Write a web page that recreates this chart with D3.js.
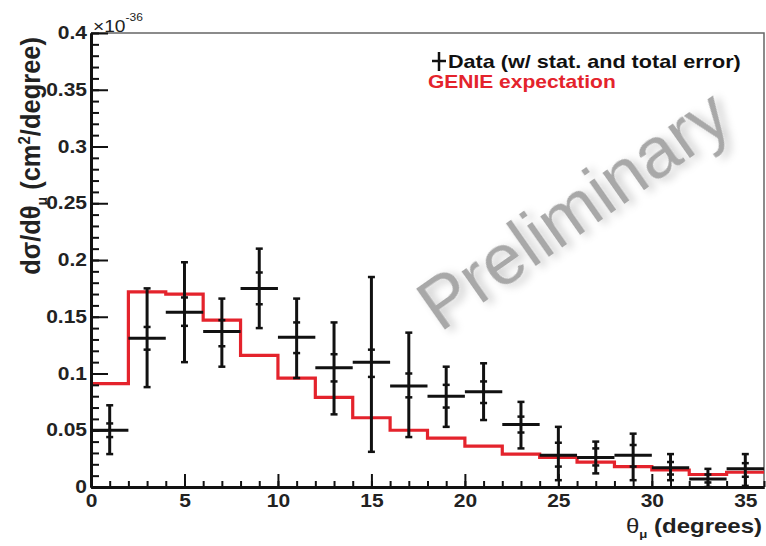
<!DOCTYPE html>
<html>
<head>
<meta charset="utf-8">
<script src="https://cdn.jsdelivr.net/npm/d3@7"></script>
<style>
  body { margin: 0; background: #fff; }
  svg { display: block; font-family: "Liberation Sans", Arial, Helvetica, sans-serif; }
</style>
</head>
<body>
<div id="chart"></div>
<script>
// bins in theta_mu (degrees)
var binEdges = [0, 2, 4, 6, 8, 10, 12, 14, 16, 18, 20, 22, 24, 26, 28, 30, 32, 34, 36];
var binCenters = [1, 3, 5, 7, 9, 11, 13, 15, 17, 19, 21, 23, 25, 27, 29, 31, 33, 35];

// data (x 1e-36 cm^2/degree)
var dataValues = [0.050, 0.131, 0.154, 0.137, 0.175, 0.132, 0.105, 0.110, 0.089, 0.080, 0.084, 0.055, 0.028, 0.026, 0.028, 0.017, 0.007, 0.016];
var totalLo    = [0.029, 0.088, 0.110, 0.106, 0.140, 0.096, 0.064, 0.031, 0.044, 0.053, 0.059, 0.034, 0.006, 0.012, 0.006, 0.006, 0.000, 0.001];
var totalHi    = [0.072, 0.175, 0.198, 0.166, 0.210, 0.166, 0.145, 0.185, 0.136, 0.106, 0.109, 0.075, 0.053, 0.040, 0.047, 0.029, 0.016, 0.029];
var statLo     = [0.044, 0.121, 0.142, 0.124, 0.161, 0.118, 0.093, 0.097, 0.079, 0.070, 0.074, 0.048, 0.018, 0.019, 0.018, 0.011, 0.004, 0.009];
var statHi     = [0.056, 0.141, 0.167, 0.147, 0.189, 0.145, 0.117, 0.121, 0.100, 0.090, 0.093, 0.062, 0.039, 0.034, 0.037, 0.022, 0.011, 0.021];

// GENIE expectation per bin
var genie = [0.091, 0.172, 0.170, 0.147, 0.116, 0.096, 0.079, 0.061, 0.050, 0.043, 0.036, 0.029, 0.026, 0.022, 0.018, 0.015, 0.011, 0.013];

var xMajorTicks = [0, 5, 10, 15, 20, 25, 30, 35];
var yMajorTicks = [0, 0.05, 0.1, 0.15, 0.2, 0.25, 0.3, 0.35, 0.4];

var width = 766, height = 546;
var padL = 91, padR = 764, padT = 33, padB = 487;
var red = "#e4232c";
var stretch = 1.2; // text in the picture is a bit wide

var x = d3.scaleLinear().domain([0, 36]).range([padL, padR]);
var y = d3.scaleLinear().domain([0, 0.4]).range([padB, padT]);

var svg = d3.select("#chart").append("svg")
    .attr("width", width)
    .attr("height", height);

svg.append("rect").attr("width", width).attr("height", height).attr("fill", "#fff");

var defs = svg.append("defs");
var f = defs.append("filter").attr("id", "shadow")
    .attr("x", "-20%").attr("y", "-20%").attr("width", "140%").attr("height", "140%");
f.append("feDropShadow")
    .attr("dx", 4).attr("dy", 5).attr("stdDeviation", 4)
    .attr("flood-color", "#000").attr("flood-opacity", 0.2);

// watermark
svg.append("text")
    .attr("transform", "translate(440,333) rotate(-35)")
    .attr("font-size", 72)
    .attr("fill", "#a8a8a8")
    .attr("filter", "url(#shadow)")
    .text("Preliminary");

// frame top/right
svg.append("path")
    .attr("d", "M" + padL + "," + padT + "H" + padR + "V" + padB)
    .attr("fill", "none")
    .attr("stroke", "#666")
    .attr("stroke-width", 1.5);

// GENIE step line
var stepPts = binEdges.map(function(e, i) {
    return [e, genie[Math.min(i, genie.length - 1)]];
});
svg.append("path")
    .datum(stepPts)
    .attr("fill", "none")
    .attr("stroke", red)
    .attr("stroke-width", 3.2)
    .attr("d", d3.line()
        .x(function(d) { return x(d[0]); })
        .y(function(d) { return y(d[1]); })
        .curve(d3.curveStepAfter));

// data crosses
var pts = svg.append("g").selectAll("g")
    .data(binCenters)
    .enter().append("g")
    .attr("stroke", "#111")
    .attr("stroke-width", 3);

pts.append("line")
    .attr("x1", function(d, i) { return x(binEdges[i]); })
    .attr("x2", function(d, i) { return x(binEdges[i + 1]); })
    .attr("y1", function(d, i) { return y(dataValues[i]); })
    .attr("y2", function(d, i) { return y(dataValues[i]); });

pts.append("line")
    .attr("x1", function(d) { return x(d); })
    .attr("x2", function(d) { return x(d); })
    .attr("y1", function(d, i) { return y(totalLo[i]); })
    .attr("y2", function(d, i) { return y(totalHi[i]); });

var caps = [totalLo, totalHi, statLo, statHi];
caps.forEach(function(arr) {
    pts.append("line")
        .attr("stroke-width", 2.5)
        .attr("x1", function(d) { return x(d) - 3.5; })
        .attr("x2", function(d) { return x(d) + 3.5; })
        .attr("y1", function(d, i) { return y(arr[i]); })
        .attr("y2", function(d, i) { return y(arr[i]); });
});

// axes
function styleText(sel) {
    sel.selectAll("text")
        .attr("font-size", 17.5)
        .attr("font-weight", "bold")
        .attr("fill", "#222")
        .attr("transform", "scale(" + stretch + ",1)")
        .attr("x", function() { return (+d3.select(this).attr("x") || 0) / stretch; });
}

var xMinor = svg.append("g")
    .attr("transform", "translate(0," + padB + ")")
    .call(d3.axisBottom(x).ticks(36).tickSizeInner(-6).tickSizeOuter(0).tickFormat(""));
var xAxis = svg.append("g")
    .attr("transform", "translate(0," + padB + ")")
    .call(d3.axisBottom(x).tickValues(xMajorTicks).tickSizeInner(-13).tickSizeOuter(0).tickPadding(8)
        .tickFormat(d3.format("d")));
var yMinor = svg.append("g")
    .attr("transform", "translate(" + padL + ",0)")
    .call(d3.axisLeft(y).ticks(40).tickSizeInner(-8).tickSizeOuter(0).tickFormat(""));
var yAxis = svg.append("g")
    .attr("transform", "translate(" + padL + ",0)")
    .call(d3.axisLeft(y).tickValues(yMajorTicks).tickSizeInner(-17).tickSizeOuter(0).tickPadding(4)
        .tickFormat(function(d) { return d === 0 ? "0" : d3.format("")(+d.toFixed(2)); }));

[xMinor, xAxis, yMinor, yAxis].forEach(function(g) {
    g.selectAll("line").attr("stroke", "#111").attr("stroke-width", 2);
    g.select(".domain").attr("stroke", "#111").attr("stroke-width", 3);
});
styleText(xAxis);
styleText(yAxis);

// exponent label
var expo = svg.append("text")
    .attr("transform", "translate(93,32) scale(" + stretch + ",1)")
    .attr("font-size", 16)
    .attr("fill", "#222");
expo.append("tspan").text("\u00d710");
expo.append("tspan").attr("font-size", 10).attr("dy", -11).text("-36");

// y title
var yt = svg.append("text")
    .attr("transform", "translate(40,37) rotate(-90) scale(1,1.05)")
    .attr("text-anchor", "end")
    .attr("font-size", 25.5)
    .attr("font-weight", "bold")
    .attr("fill", "#222");
yt.append("tspan").text("d\u03c3/d\u03b8");
yt.append("tspan").attr("font-size", 14).attr("dy", 7).text("\u03bc");
yt.append("tspan").attr("dy", -7).text("  (cm");
yt.append("tspan").attr("font-size", 15).attr("dy", -10).text("2");
yt.append("tspan").attr("dy", 10).text("/degree)");

// x title
var xt = svg.append("text")
    .attr("transform", "translate(762,533) scale(" + stretch + ",1)")
    .attr("text-anchor", "end")
    .attr("font-size", 20)
    .attr("font-weight", "bold")
    .attr("fill", "#222");
xt.append("tspan").attr("font-weight", "normal").text("\u03b8");
xt.append("tspan").attr("font-size", 11).attr("dy", 5).text("\u03bc");
xt.append("tspan").attr("dy", -5).text(" (degrees)");

// legend
var lg = svg.append("g").attr("stroke", "#111").attr("stroke-width", 2.5);
lg.append("line").attr("x1", 432).attr("x2", 446).attr("y1", 61).attr("y2", 61);
lg.append("line").attr("x1", 439).attr("x2", 439).attr("y1", 52).attr("y2", 71);

svg.append("text")
    .attr("transform", "translate(448,68) scale(" + stretch + ",1)")
    .attr("font-size", 18)
    .attr("font-weight", "bold")
    .attr("fill", "#111")
    .text("Data (w/ stat. and total error)");

svg.append("text")
    .attr("transform", "translate(428,88) scale(" + stretch + ",1)")
    .attr("font-size", 17.5)
    .attr("font-weight", "bold")
    .attr("fill", red)
    .text("GENIE expectation");
</script>
</body>
</html>
